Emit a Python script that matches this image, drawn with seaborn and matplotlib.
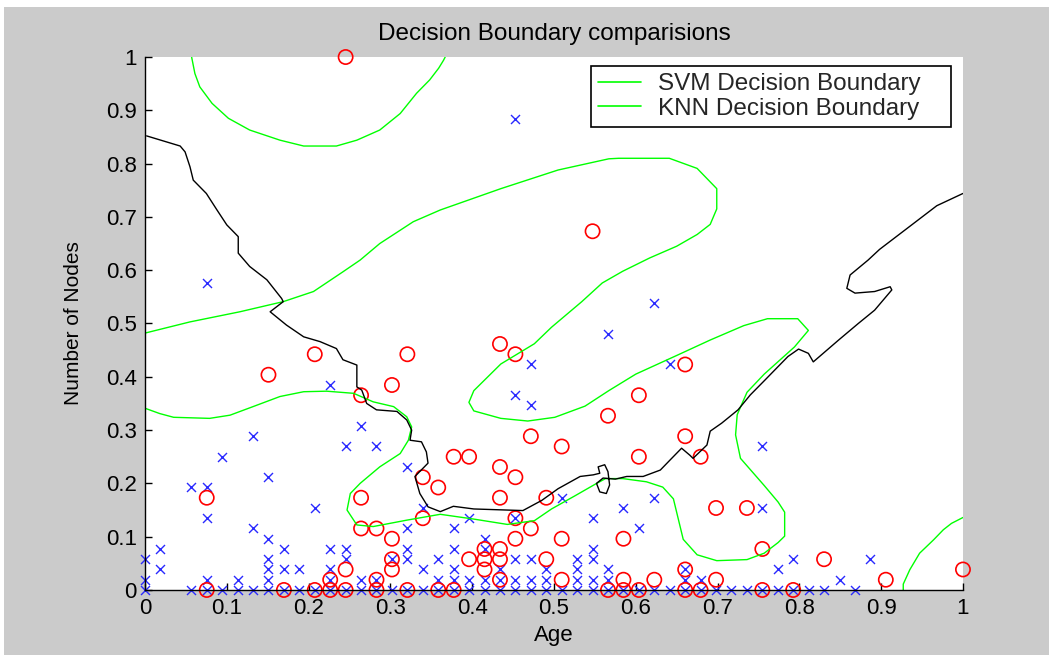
import numpy as np
import pandas as pd
import matplotlib
matplotlib.use("Agg")
import matplotlib.pyplot as plt
import seaborn as sns
from matplotlib.lines import Line2D
from matplotlib.patches import Rectangle

# ---------------- data (age in years, number of positive axillary nodes) ----------------
survived_age = [30, 33, 34, 35, 36, 37, 38, 39, 40, 41, 42, 43, 44, 45, 46, 47, 48, 49, 50, 51, 52,
                53, 54, 55, 56, 57, 58, 59, 60, 61, 62, 63, 64, 65, 66, 67, 68, 69, 70, 71, 72, 73, 74, 76,
                30, 34, 36, 38, 42, 44, 45, 49, 50, 51, 52, 53, 54, 55, 56, 58, 59, 60, 65, 66, 75,
                31, 38, 39, 40, 42, 48, 50, 53, 56, 58, 60, 65, 71,
                30, 38, 43, 46, 47, 49, 54, 55, 58, 59, 72, 77,
                31, 39, 42, 43, 47, 50, 52, 59,
                38, 52,
                37, 47, 50, 62,
                34, 51, 54, 59,
                41, 48, 61, 70,
                57, 63,
                33, 34,
                38, 47, 35, 43, 45, 70, 37, 44, 55, 54, 42, 55, 64, 60, 63, 34, 54]
survived_nodes = [0] * 44 + [1] * 21 + [2] * 13 + [3] * 12 + [4] * 8 + [5] * 2 + [6] * 4 + [7] * 4 + \
                 [8] * 4 + [9] * 2 + [10] * 2 + \
                 [11, 12, 13, 14, 14, 14, 15, 16, 18, 19, 20, 22, 22, 25, 28, 30, 46]

died_age = [34, 39, 41, 42, 43, 45, 47, 49, 50, 60, 61, 62, 65, 66, 70, 72,
            42, 45, 53, 57, 61, 63, 67, 78,
            43, 46, 52, 65, 83,
            46, 51, 52, 53, 56, 74,
            52, 53, 70,
            46, 54, 57, 61,
            44, 45, 55,
            48, 54,
            67, 69,
            34, 44, 53, 56,
            49, 48, 54, 53, 50, 51, 62, 66, 57, 55, 65, 60, 44, 62, 46, 38, 65, 41, 47, 54, 53, 59, 43]
died_nodes = [0] * 16 + [1] * 8 + [2] * 5 + [3] * 6 + [4] * 3 + [5] * 4 + [6] * 3 + [7] * 2 + \
             [8] * 2 + [9] * 4 + \
             [10, 11, 11, 12, 13, 13, 13, 13, 14, 15, 15, 17, 19, 19, 20, 21, 22, 23, 23, 23, 24, 35, 52]

# KNN decision boundary (normalised age, normalised nodes)
knn_x = [0.002, 0.043, 0.049, 0.055, 0.059, 0.075, 0.088, 0.100, 0.114, 0.114, 0.128, 0.149, 0.167,
         0.169, 0.153, 0.173, 0.194, 0.214, 0.234, 0.242, 0.259, 0.259, 0.265, 0.271, 0.283, 0.308,
         0.320, 0.326, 0.324, 0.338, 0.344, 0.346, 0.330, 0.336, 0.346, 0.361, 0.377, 0.402, 0.462,
         0.485, 0.505, 0.532, 0.548, 0.556, 0.554, 0.562, 0.566, 0.568, 0.564, 0.556, 0.552, 0.560,
         0.575, 0.589, 0.609, 0.630, 0.642, 0.656, 0.666, 0.670, 0.687, 0.691, 0.705, 0.725, 0.740,
         0.758, 0.786, 0.799, 0.811, 0.817, 0.848, 0.872, 0.892, 0.913, 0.911, 0.892, 0.868, 0.858,
         0.862, 0.884, 0.898, 0.939, 0.968, 1.000]
knn_y = [0.852, 0.833, 0.822, 0.794, 0.769, 0.744, 0.713, 0.685, 0.663, 0.632, 0.607, 0.582, 0.547,
         0.541, 0.522, 0.497, 0.475, 0.466, 0.453, 0.432, 0.422, 0.381, 0.375, 0.350, 0.338, 0.335,
         0.319, 0.300, 0.281, 0.278, 0.259, 0.238, 0.213, 0.181, 0.156, 0.147, 0.157, 0.152, 0.149,
         0.168, 0.190, 0.213, 0.216, 0.219, 0.231, 0.235, 0.222, 0.197, 0.181, 0.184, 0.200, 0.210,
         0.208, 0.213, 0.213, 0.225, 0.244, 0.266, 0.253, 0.247, 0.272, 0.298, 0.313, 0.338, 0.366,
         0.394, 0.438, 0.452, 0.444, 0.428, 0.469, 0.500, 0.525, 0.563, 0.569, 0.560, 0.557, 0.566,
         0.591, 0.619, 0.639, 0.687, 0.721, 0.744]

# SVM decision boundary pieces
svm_top_x = [0.057, 0.061, 0.067, 0.082, 0.102, 0.128, 0.165, 0.194, 0.234, 0.259, 0.287, 0.312,
             0.332, 0.348, 0.359, 0.365, 0.367]
svm_top_y = [1.000, 0.969, 0.944, 0.913, 0.885, 0.863, 0.844, 0.833, 0.833, 0.844, 0.863, 0.894,
             0.932, 0.957, 0.979, 0.994, 1.000]

svm_main_x = [0.000, 0.055, 0.116, 0.169, 0.206, 0.242, 0.263, 0.287, 0.328, 0.361, 0.435, 0.505,
              0.567, 0.579, 0.641, 0.675, 0.699, 0.699, 0.691, 0.675, 0.650, 0.617, 0.584, 0.559,
              0.534, 0.497, 0.476, 0.435, 0.402, 0.396, 0.402, 0.435, 0.468, 0.501, 0.538, 0.567,
              0.600, 0.650, 0.691, 0.732, 0.761, 0.798, 0.811, 0.794, 0.757, 0.736, 0.724, 0.722,
              0.728, 0.757, 0.774, 0.782, 0.782, 0.774, 0.757, 0.736, 0.699, 0.675, 0.658, 0.652,
              0.646, 0.633, 0.613, 0.584, 0.563, 0.551, 0.526, 0.497, 0.476, 0.443, 0.402, 0.361,
              0.320, 0.279, 0.259, 0.247, 0.251, 0.263, 0.287, 0.312, 0.322, 0.326, 0.320, 0.304,
              0.279, 0.255, 0.222, 0.194, 0.165, 0.132, 0.104, 0.079, 0.035, 0.018, 0.000]
svm_main_y = [0.482, 0.503, 0.522, 0.541, 0.560, 0.597, 0.619, 0.650, 0.691, 0.713, 0.753, 0.788,
              0.809, 0.810, 0.810, 0.791, 0.753, 0.715, 0.686, 0.667, 0.645, 0.623, 0.598, 0.576,
              0.541, 0.493, 0.462, 0.424, 0.374, 0.352, 0.336, 0.322, 0.317, 0.324, 0.345, 0.374,
              0.405, 0.440, 0.469, 0.496, 0.509, 0.509, 0.487, 0.456, 0.405, 0.371, 0.329, 0.291,
              0.247, 0.196, 0.165, 0.146, 0.101, 0.089, 0.069, 0.057, 0.055, 0.066, 0.095, 0.133,
              0.171, 0.193, 0.203, 0.209, 0.209, 0.199, 0.177, 0.152, 0.130, 0.123, 0.133, 0.142,
              0.131, 0.119, 0.122, 0.150, 0.181, 0.200, 0.231, 0.256, 0.281, 0.306, 0.325, 0.344,
              0.353, 0.369, 0.373, 0.372, 0.363, 0.344, 0.328, 0.322, 0.324, 0.331, 0.341]

svm_corner_x = [0.927, 0.927, 0.935, 0.947, 0.964, 0.976, 0.986, 1.000]
svm_corner_y = [0.000, 0.011, 0.038, 0.069, 0.094, 0.113, 0.125, 0.136]

x_ticks = [0, 0.1, 0.2, 0.3, 0.4, 0.5, 0.6, 0.7, 0.8, 0.9, 1]
tick_labels = ['0', '0.1', '0.2', '0.3', '0.4', '0.5', '0.6', '0.7', '0.8', '0.9', '1']
legend_labels = ['SVM Decision Boundary', 'KNN Decision Boundary']

# ---------------- normalisation ----------------
age_min, age_max, nodes_max = 30, 83, 52
surv = pd.DataFrame({'x': (np.array(survived_age) - age_min) / (age_max - age_min),
                     'y': np.array(survived_nodes) / nodes_max})
died = pd.DataFrame({'x': (np.array(died_age) - age_min) / (age_max - age_min),
                     'y': np.array(died_nodes) / nodes_max})

# ---------------- figure ----------------
sns.set_theme(style="white")
plt.rcParams['font.family'] = ['Liberation Sans', 'DejaVu Sans']

fig = plt.figure(figsize=(10.53, 6.6), dpi=100)
fig.patch.set_facecolor('white')
fig.patches.append(Rectangle((0.004, 0.0076), 0.992, 0.9814, transform=fig.transFigure,
                             facecolor='#cbcbcb', edgecolor='none', zorder=-10))
ax = fig.add_axes([0.1377, 0.1061, 0.7768, 0.8075])
ax.set_facecolor('white')

sns.scatterplot(data=surv, x='x', y='y', marker='x', color='#2a2aff', s=42, linewidth=1.0,
                ax=ax, clip_on=False, zorder=3, legend=False)
sns.scatterplot(data=died, x='x', y='y', marker='o', facecolor='none', edgecolor='#ff0000', s=105,
                linewidth=1.2, ax=ax, clip_on=False, zorder=3, legend=False)

green = '#00ff00'
sns.lineplot(x=svm_top_x, y=svm_top_y, sort=False, estimator=None, color=green, lw=1.0, ax=ax, zorder=4)
sns.lineplot(x=svm_main_x, y=svm_main_y, sort=False, estimator=None, color=green, lw=1.0, ax=ax, zorder=4)
sns.lineplot(x=svm_corner_x, y=svm_corner_y, sort=False, estimator=None, color=green, lw=1.0, ax=ax, zorder=4)
sns.lineplot(x=knn_x, y=knn_y, sort=False, estimator=None, color='black', lw=1.0, ax=ax, zorder=4)

ax.set_xlim(0, 1)
ax.set_ylim(0, 1)
ax.set_xticks(x_ticks)
ax.set_xticklabels(tick_labels)
ax.set_yticks(x_ticks)
ax.set_yticklabels(tick_labels)
ax.tick_params(direction='in', length=5, width=1, color='black', labelsize=16, labelcolor='black',
               left=True, bottom=True, pad=6)
for side in ['top', 'right']:
    ax.spines[side].set_visible(False)
for side in ['left', 'bottom']:
    ax.spines[side].set_color('black')
    ax.spines[side].set_linewidth(1.0)
    ax.spines[side].set_zorder(5)

ax.set_title('Decision Boundary comparisions', fontsize=17.5, color='black', pad=12)
ax.set_xlabel('Age', fontsize=16, color='black')
ax.set_ylabel('Number of Nodes', fontsize=15, color='black')
ax.xaxis.set_label_coords(0.5, -0.066)
ax.yaxis.set_label_coords(-0.076, 0.5)

handles = [Line2D([], [], color=green, lw=1.2), Line2D([], [], color=green, lw=1.2)]
leg = ax.legend(handles, legend_labels, loc='upper left', bbox_to_anchor=(0.545, 0.983, 0.44, 0.0),
                mode='expand', fontsize=17.5, frameon=True, fancybox=False, framealpha=1,
                edgecolor='black', handlelength=1.75, handletextpad=0.7, borderpad=0.3,
                labelspacing=0.1, borderaxespad=0)
leg.get_frame().set_linewidth(1.2)

fig.savefig('out.png', dpi=100, facecolor=fig.get_facecolor())
